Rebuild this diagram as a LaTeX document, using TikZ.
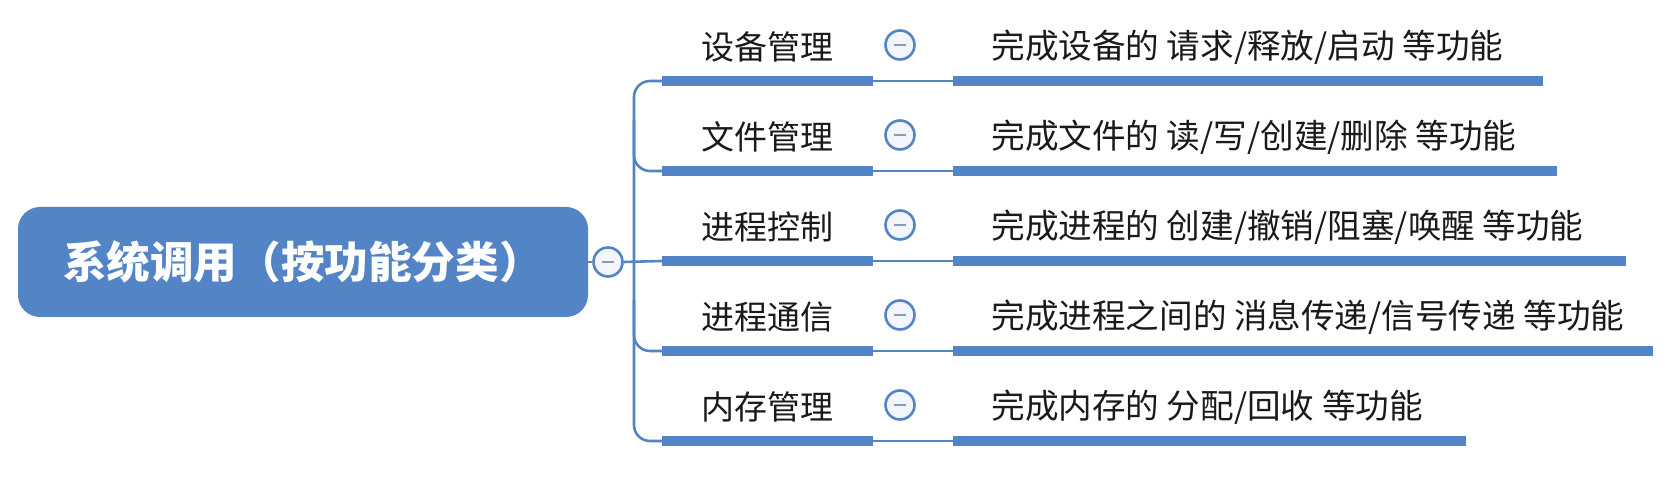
\documentclass[tikz,border=0pt]{standalone}
\usepackage{fontspec}
\setmainfont{Noto Sans CJK SC}
\definecolor{mapblue}{HTML}{5384C6}
\definecolor{foldfill}{HTML}{F2F5FA}
\definecolor{minusgray}{HTML}{8C9AAE}
\definecolor{inktext}{HTML}{1A1A1A}
\tikzset{
  rootbox/.style={rectangle, rounded corners=11pt, fill=mapblue, text=white,
    minimum width=285pt, minimum height=55pt, font=\fontsize{21.8pt}{25pt}\selectfont\bfseries},
  itemtext/.style={text=inktext, inner sep=0pt, font=\fontsize{16.5pt}{20pt}\selectfont},
  desctext/.style={text=inktext, inner sep=0pt, font=\fontsize{16.8pt}{20pt}\selectfont},
  bar/.style={line width=5pt, mapblue},
  link/.style={line width=1.3pt, mapblue},
  fold/.style={circle, draw=mapblue, line width=1.3pt, fill=foldfill, minimum size=14.5pt, inner sep=0pt,
    path picture={\draw[minusgray, line width=1pt] ([xshift=-3.2pt]path picture bounding box.center)
      -- ([xshift=3.2pt]path picture bounding box.center);}}
}
\begin{document}
\begin{tikzpicture}[x=0.5pt, y=-0.5pt]
  \useasboundingbox (0,0) rectangle (1666,490);
  \node[rootbox] (root) at (303,262) {系统调用（按功能分类）};
  \node[fold] (rf) at (608,262) {};
  \draw[link] (root.east) -- (rf.west);
  % one row per kind of call
  \foreach \lab/\desc/\endx [count=\i] in {
      设备管理/{完成设备的 请求/释放/启动 等功能}/1543,
      文件管理/{完成文件的 读/写/创建/删除 等功能}/1557,
      进程控制/{完成进程的 创建/撤销/阻塞/唤醒 等功能}/1626,
      进程通信/{完成进程之间的 消息传递/信号传递 等功能}/1653,
      内存管理/{完成内存的 分配/回收 等功能}/1466} {
    \pgfmathsetmacro\yb{81+90*(\i-1)}
    \coordinate (s\i) at (662,\yb);
    \coordinate (e\i) at (873,\yb);
    \coordinate (d\i) at (953,\yb);
    \coordinate (f\i) at (\endx,\yb);
    \node[itemtext] (l\i) at (767,\yb-34) {\lab};
    \node[fold] (c\i) at (900,\yb-36) {};
    \node[desctext, anchor=west] (t\i) at (991,\yb-34) {\desc};
    \draw[bar] (s\i) -- (e\i);
    \draw[link] (e\i) -- (d\i);
    \draw[bar] (d\i) -- (f\i);
  }
  % trunk
  \draw[link, rounded corners=8pt] (s1) -| (634,441) -- (s5);
  \draw[link] (rf.east) -- (s3);
  \draw[link, rounded corners=8pt] (634,120) |- (s2);
  \draw[link, rounded corners=8pt] (634,300) |- (s4);
\end{tikzpicture}
\end{document}
